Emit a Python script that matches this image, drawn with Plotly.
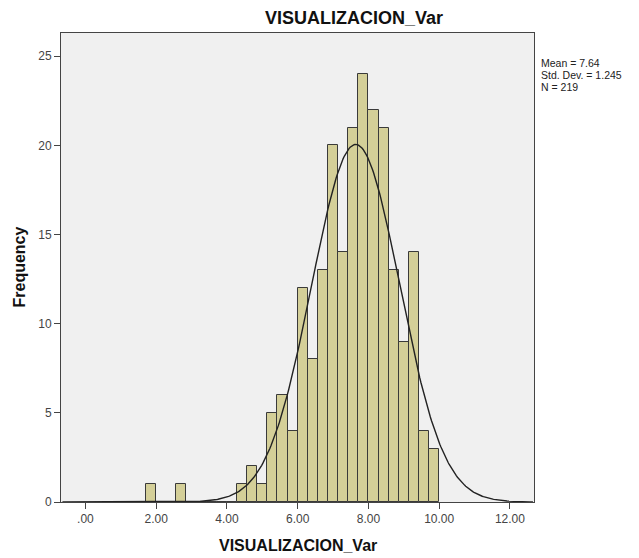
import numpy as np
import plotly.graph_objects as go

# Histogram of VISUALIZACION_Var (bin width 2/7, first bin starts at 12/7)
bin_width = 2 / 7
first_bin_start = 12 / 7
counts = [1, 0, 0, 1, 0, 0, 0, 0, 0,
          1, 2, 1, 5, 6, 4, 12, 8, 13, 20, 14, 21, 24, 22, 21, 13, 9, 14, 4, 3]

# Summary statistics shown beside the chart
mean_val = 7.64
std_val = 1.245
n_val = 219

x_tickvals = [0, 2, 4, 6, 8, 10, 12]
x_ticktext = [".00", "2.00", "4.00", "6.00", "8.00", "10.00", "12.00"]
y_tickvals = [0, 5, 10, 15, 20, 25]

centers = [first_bin_start + (i + 0.5) * bin_width for i in range(len(counts))]

# Fitted normal curve scaled to counts per bin
xc = np.linspace(-0.65, 12.65, 400)
yc = n_val * bin_width / (std_val * np.sqrt(2 * np.pi)) * np.exp(-0.5 * ((xc - mean_val) / std_val) ** 2)

FONT = "Arial, 'Liberation Sans', sans-serif"

fig = go.Figure()
fig.add_trace(go.Bar(
    x=centers, y=counts, width=bin_width,
    marker=dict(color="#D4CF98", line=dict(color="#3a3a3a", width=1)),
    hoverinfo="x+y", showlegend=False,
))
fig.add_trace(go.Scatter(
    x=xc, y=yc, mode="lines",
    line=dict(color="#222222", width=1.4),
    hoverinfo="skip", showlegend=False,
))

fig.update_layout(
    width=639, height=558,
    margin=dict(l=61, r=105, t=33, b=56),
    paper_bgcolor="white",
    plot_bgcolor="#F0F0F0",
    font=dict(family=FONT, color="#444444", size=12),
    title=dict(
        text="<b>VISUALIZACION_Var</b>",
        x=354 / 639, xref="container", xanchor="center",
        y=1 - 17.5 / 558, yref="container", yanchor="middle",
        font=dict(family=FONT, size=18, color="#111111"),
    ),
    bargap=0,
)

fig.update_xaxes(
    range=[-0.69, 12.68],
    tickvals=x_tickvals, ticktext=x_ticktext,
    ticks="outside", ticklen=6, tickcolor="#444444",
    showline=True, linecolor="#444444", linewidth=1, mirror=True,
    showgrid=False, zeroline=False,
    tickfont=dict(family=FONT, size=12, color="#444444"),
)
fig.update_yaxes(
    range=[0, 26.3],
    tickvals=y_tickvals,
    ticks="outside", ticklen=6, tickcolor="#444444",
    showline=True, linecolor="#444444", linewidth=1, mirror=True,
    showgrid=False, zeroline=False,
    tickfont=dict(family=FONT, size=12, color="#444444"),
)

# Axis titles
fig.add_annotation(
    text="<b>VISUALIZACION_Var</b>", xref="paper", yref="paper",
    x=(298 - 61) / 473, y=(502 - 545) / 469, xanchor="center", yanchor="middle",
    showarrow=False, font=dict(family=FONT, size=16, color="#111111"),
)
fig.add_annotation(
    text="<b>Frequency</b>", xref="paper", yref="paper",
    x=(19 - 61) / 473, y=0.5, xanchor="center", yanchor="middle", textangle=-90,
    showarrow=False, font=dict(family=FONT, size=16, color="#111111"),
)

# Statistics block
stat_lines = [f"Mean = {mean_val:.2f}", f"Std. Dev. = {std_val:.3f}", f"N = {n_val}"]
for i, line in enumerate(stat_lines):
    ypix = 63 + i * 12
    fig.add_annotation(
        text=line, xref="paper", yref="paper",
        x=(540 - 61) / 473, y=(502 - ypix) / 469, xanchor="left", yanchor="middle",
        showarrow=False, font=dict(family=FONT, size=10.5, color="#222222"),
        borderpad=0,
    )

fig.write_html("out.html")
